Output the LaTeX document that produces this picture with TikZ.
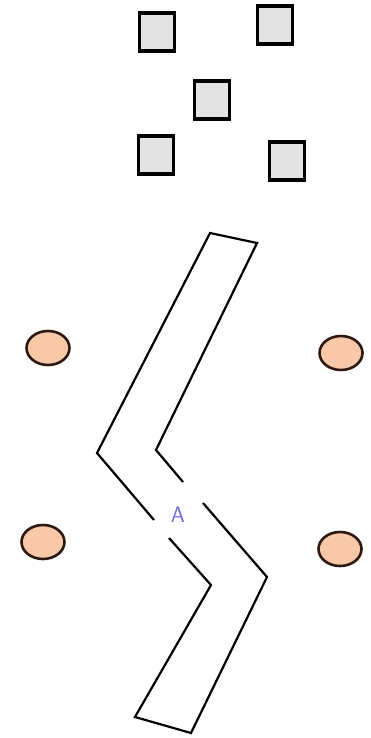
\documentclass[tikz,border=0pt]{standalone}
\usepackage{tikz}
\usetikzlibrary{shapes.geometric}
\definecolor{peach}{RGB}{248,200,168}
\definecolor{beadline}{RGB}{45,25,15}
\definecolor{labelblue}{RGB}{110,110,215}

\begin{document}
\begin{tikzpicture}[x=1pt,y=-1pt,line width=2.2pt,line join=miter,
  box/.style={draw,line width=3.2pt,fill=gray!22,minimum width=35pt,minimum height=38pt,inner sep=0pt},
  bead/.style={ellipse,draw=beadline,line width=2.6pt,fill=peach,minimum width=43pt,minimum height=34pt,inner sep=0pt}]
  \useasboundingbox (0,0) rectangle (371,738);
  % boxes on top
  \foreach \n/\x/\y in {b1/157/32, b2/275/25, b3/212/100, b4/156/155, b5/287/161}
    \node[box] (\n) at (\x,\y) {};
  % beads left and right
  \foreach \n/\x/\y in {c1/48/348, c2/341/353, c3/43/542, c4/340/549}
    \node[bead] (\n) at (\x,\y) {};
  % zigzag band, broken at A
  \draw (154,520) -- (97,453) -- (210,233) -- (257,243) -- (156,450) -- (183,482);
  \draw (203,503) -- (267,577) -- (191,733) -- (135,717) -- (211,585) -- (169,538);
  \node[text=labelblue,font=\sffamily\LARGE,scale=1.3] (a) at (178,515) {A};
\end{tikzpicture}
\end{document}
